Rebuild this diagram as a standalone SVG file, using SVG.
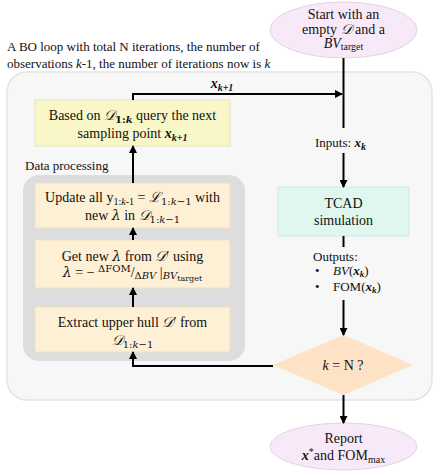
<svg xmlns="http://www.w3.org/2000/svg" width="436" height="472" viewBox="0 0 436 472">
<style>
text{font-family:"Liberation Serif","DejaVu Serif",serif;fill:#111;}
.t{font-size:14px;text-anchor:middle;}
.s{font-size:13px;}
.sub{font-size:10px;}
.ss{font-size:9px;}
.m{font-family:"DejaVu Serif","Liberation Serif",serif;}
.i{font-style:italic;}
.bi{font-style:italic;font-weight:bold;}
.box{stroke-width:1;}
.conn{stroke:#000;stroke-width:2;fill:none;}
</style>
<defs>
<marker id="ah" markerUnits="userSpaceOnUse" markerWidth="8" markerHeight="8" refX="7" refY="4" orient="auto">
<path d="M0,0 L8,4 L0,8 z" fill="#000"/>
</marker>
</defs>

<g id="loop-frame">
<rect x="7" y="72" width="425" height="328" rx="20" fill="#f7f7f7" stroke="#e4e4e4" stroke-width="1.5"/>
</g>

<g id="title">
<text class="s" x="7" y="51">A BO loop with total N iterations, the number of</text>
<text class="s" x="7" y="68">observations <tspan class="i">k</tspan>-1, the number of iterations now is <tspan class="i">k</tspan></text>
</g>

<g id="data-processing">
<rect x="23" y="175" width="222" height="186" rx="16" fill="#dddddd"/>
<text class="s" x="25" y="170">Data processing</text>
</g>

<g id="start">
<ellipse cx="343.5" cy="30" rx="73.5" ry="28" fill="#f8e9f8" stroke="#e3d3e3" stroke-width="1"/>
<text class="t" x="343.5" y="19">Start with an</text>
<text class="t" x="343.5" y="34">empty <tspan class="m i">𝒟</tspan> and a</text>
<text class="t" x="343.5" y="48"><tspan class="i">BV</tspan><tspan class="sub" dy="2">target</tspan></text>
</g>

<g id="query">
<rect class="box" x="35" y="100" width="195" height="46" fill="#f9f7c8" stroke="#e6e4bc"/>
<text class="t" x="132.5" y="120">Based on <tspan class="m i">𝒟</tspan><tspan class="sub m" font-weight="bold" dy="3">1:<tspan class="i">k</tspan></tspan><tspan dy="-3"> query the next</tspan></text>
<text class="t" x="132.5" y="138">sampling point <tspan class="bi">x</tspan><tspan class="sub bi" dy="3">k+1</tspan></text>
</g>

<g id="update">
<rect class="box" x="35" y="183" width="195" height="45" fill="#fdf0d4" stroke="#efe1c6"/>
<text class="t" x="132.5" y="202">Update all y<tspan class="sub" dy="3">1:<tspan class="i">k</tspan>-1</tspan><tspan dy="-3"> = </tspan><tspan class="m i">ℒ</tspan><tspan class="sub m" dy="3">1:<tspan class="i">k</tspan>−1</tspan><tspan dy="-3"> with</tspan></text>
<text class="t" x="132.5" y="220">new <tspan class="m i">λ</tspan> in <tspan class="m i">𝒟</tspan><tspan class="sub m" dy="3">1:<tspan class="i">k</tspan>−1</tspan></text>
</g>

<g id="lambda">
<rect class="box" x="35" y="240" width="195" height="48" fill="#fdf0d4" stroke="#efe1c6"/>
<text class="t" x="132.5" y="261">Get new <tspan class="m i">λ</tspan> from <tspan class="m i">𝒟</tspan>′ using</text>
<text class="t" x="132.5" y="277"><tspan class="m i">λ</tspan> = − <tspan class="sub m" dy="-5">ΔFOM</tspan><tspan dy="5">/</tspan><tspan class="sub m" dy="2">Δ<tspan class="i">BV</tspan></tspan><tspan dy="-2"> |</tspan><tspan class="sub m i" dy="2">BV</tspan><tspan class="m" font-size="8" dy="2">target</tspan></text>
</g>

<g id="extract">
<rect class="box" x="35" y="307" width="195" height="45" fill="#fdf0d4" stroke="#efe1c6"/>
<text class="t" x="132.5" y="327">Extract upper hull <tspan class="m i">𝒟</tspan>′ from</text>
<text class="t" x="132.5" y="345"><tspan class="m i">𝒟</tspan><tspan class="sub m" dy="3">1:<tspan class="i">k</tspan>−1</tspan></text>
</g>

<g id="tcad">
<rect class="box" x="278" y="187" width="131" height="49" fill="#e0f7ef" stroke="#d0e9df"/>
<text class="t" x="343.5" y="208">TCAD</text>
<text class="t" x="343.5" y="225">simulation</text>
</g>

<g id="check">
<polygon points="273,365 343.5,335 413,365 343.5,395" fill="#fde2c5"/>
<text class="t" x="343" y="370"><tspan class="i">k</tspan> = N ?</text>
</g>

<g id="report">
<ellipse cx="343.5" cy="446.5" rx="73.5" ry="23.5" fill="#f8e9f8" stroke="#e3d3e3" stroke-width="1"/>
<text class="t" x="343.5" y="443">Report</text>
<text class="t" x="343.5" y="460"><tspan class="bi">x</tspan><tspan class="sub" dy="-5">*</tspan><tspan dy="5">and FOM</tspan><tspan class="sub" dy="3">max</tspan></text>
</g>

<g id="connectors">
<path class="conn" d="M343.5,58 V128"/>
<path class="conn" d="M133,100 V94 H342" marker-end="url(#ah)"/>
<path class="conn" d="M343.5,153 V187" marker-end="url(#ah)"/>
<path class="conn" d="M343.5,236 V247"/>
<path class="conn" d="M343.5,300 V335" marker-end="url(#ah)"/>
<path class="conn" d="M343.5,395 V423" marker-end="url(#ah)"/>
<path class="conn" d="M273,366 H133 V352" marker-end="url(#ah)"/>
<path class="conn" d="M133,307 V288" marker-end="url(#ah)"/>
<path class="conn" d="M133,240 V228" marker-end="url(#ah)"/>
<path class="conn" d="M133,183 V146" marker-end="url(#ah)"/>
</g>

<g id="labels">
<text class="t" x="222" y="88"><tspan class="bi">x</tspan><tspan class="sub bi" dy="3">k+1</tspan></text>
<text class="s" x="315" y="147">Inputs: <tspan class="bi">x</tspan><tspan class="sub bi" dy="3">k</tspan></text>
<text class="s" x="313" y="261">Outputs:</text>
<text class="s" x="315" y="275">•</text>
<text class="s" x="333" y="275"><tspan class="i">BV</tspan>(<tspan class="bi">x</tspan><tspan class="ss bi" dy="2">k</tspan><tspan dy="-2">)</tspan></text>
<text class="s" x="315" y="291">•</text>
<text class="s" x="333" y="291">FOM(<tspan class="bi">x</tspan><tspan class="ss bi" dy="2">k</tspan><tspan dy="-2">)</tspan></text>
</g>
</svg>
